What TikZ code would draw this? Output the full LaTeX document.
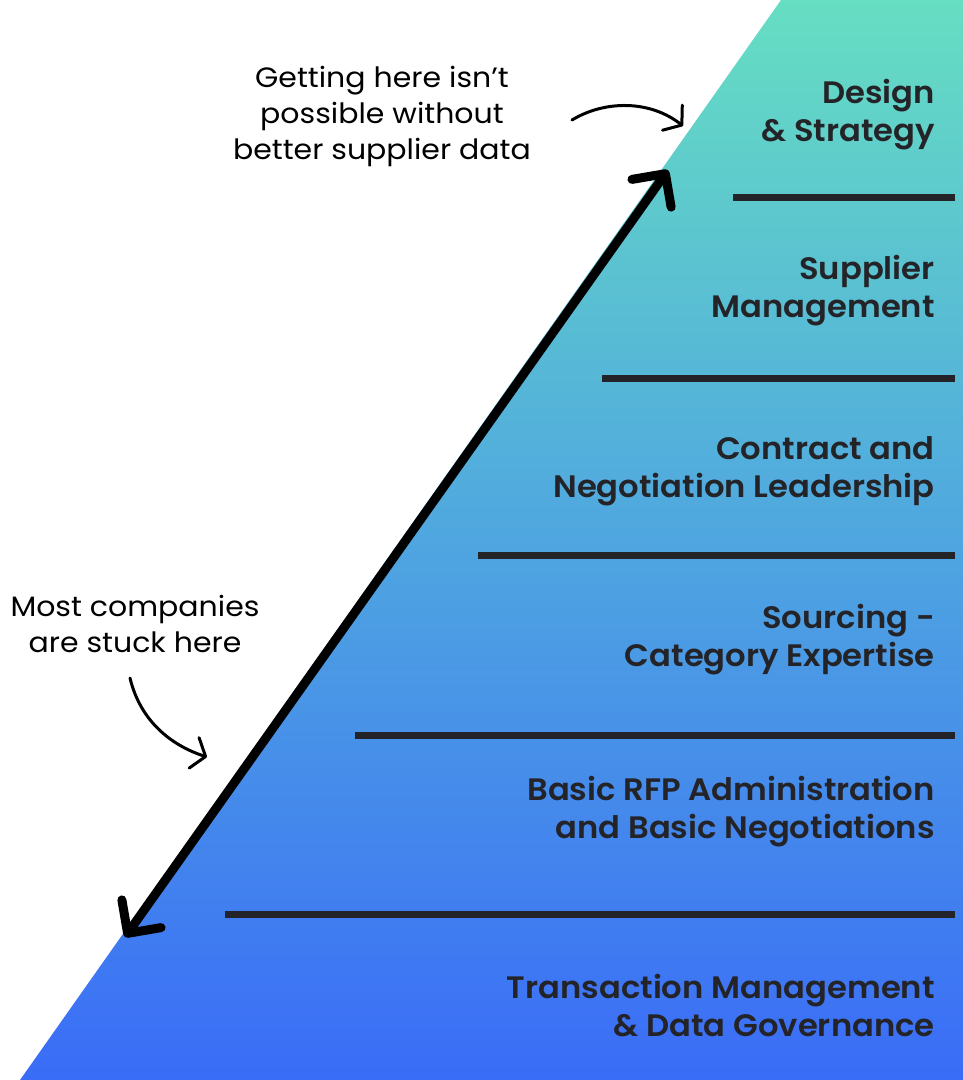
\documentclass[tikz,border=0pt]{standalone}
\usepackage{fontspec}
\setmainfont{Poppins}
\newfontfamily\labelfont[FakeStretch=1.04]{Poppins SemiBold}
\newfontfamily\notefont[FakeStretch=1.07]{Poppins}
\usetikzlibrary{arrows.meta}
\definecolor{topc}{HTML}{66DEC2}
\definecolor{midc}{HTML}{4FA6E0}
\definecolor{botc}{HTML}{3A6CF7}
\definecolor{ink}{HTML}{242428}
\tikzset{
  level/.style={anchor=east, align=right, text=ink, font=\labelfont\fontsize{31}{38}\selectfont, inner sep=0pt},
  note/.style={align=center, text=black, font=\notefont\fontsize{28}{36}\selectfont, inner sep=0pt},
  bar/.style={draw=ink, line width=7pt},
  bigarrow/.style={line width=9pt, {Straight Barb[length=24pt,width=48pt,line cap=round,line join=round]}-{Straight Barb[length=24pt,width=48pt,line cap=round,line join=round]}},
  curvearrow/.style={line width=3pt, line cap=round, -{Straight Barb[length=12pt,width=32pt,line cap=round,line join=round]}}
}
\begin{document}
\begin{tikzpicture}[x=1pt,y=-1pt]
\useasboundingbox (0,0) rectangle (963,1080);
% gradient shape
\shade[top color=topc, bottom color=botc, middle color=midc] (781,0) -- (963,0) -- (963,1080) -- (20,1080) -- cycle;
% bars
\coordinate (b1l) at (733,197); \coordinate (b1r) at (955,197);
\coordinate (b2l) at (602,378); \coordinate (b2r) at (955,378);
\coordinate (b3l) at (478,555); \coordinate (b3r) at (955,555);
\coordinate (b4l) at (355,735); \coordinate (b4r) at (955,735);
\coordinate (b5l) at (225,914); \coordinate (b5r) at (955,914);
\draw[bar] (b1l) -- (b1r);
\draw[bar] (b2l) -- (b2r);
\draw[bar] (b3l) -- (b3r);
\draw[bar] (b4l) -- (b4r);
\draw[bar] (b5l) -- (b5r);
% labels
\node[level] (l1) at (935,115) {Design\\\& Strategy};
\node[level] (l2) at (935,291) {Supplier\\Management};
\node[level] (l3) at (935,471) {Contract and\\Negotiation Leadership};
\node[level] (l4) at (935,640) {Sourcing -\\Category Expertise};
\node[level] (l5) at (935,812) {Basic RFP Administration\\and Basic Negotiations};
\node[level] (l6) at (935,1006) {Transaction Management\\\& Data Governance};
% big double arrow
\coordinate (abot) at (125,937);
\coordinate (atop) at (668,170);
\draw[bigarrow] (abot) -- (atop);
% notes
\node[note] (n1) at (382,116) {Getting here isn’t\\possible without\\better supplier data};
\node[note] (n2) at (135,624) {Most companies\\are stuck here};
\coordinate (c1s) at (572,120); \coordinate (c1e) at (683,126);
\draw[curvearrow] (c1s) .. controls (605,100) and (650,100) .. (c1e);
\coordinate (c2s) at (130,678); \coordinate (c2e) at (207,757);
\draw[curvearrow] (c2s) .. controls (140,720) and (170,745) .. (c2e);
\end{tikzpicture}
\end{document}
